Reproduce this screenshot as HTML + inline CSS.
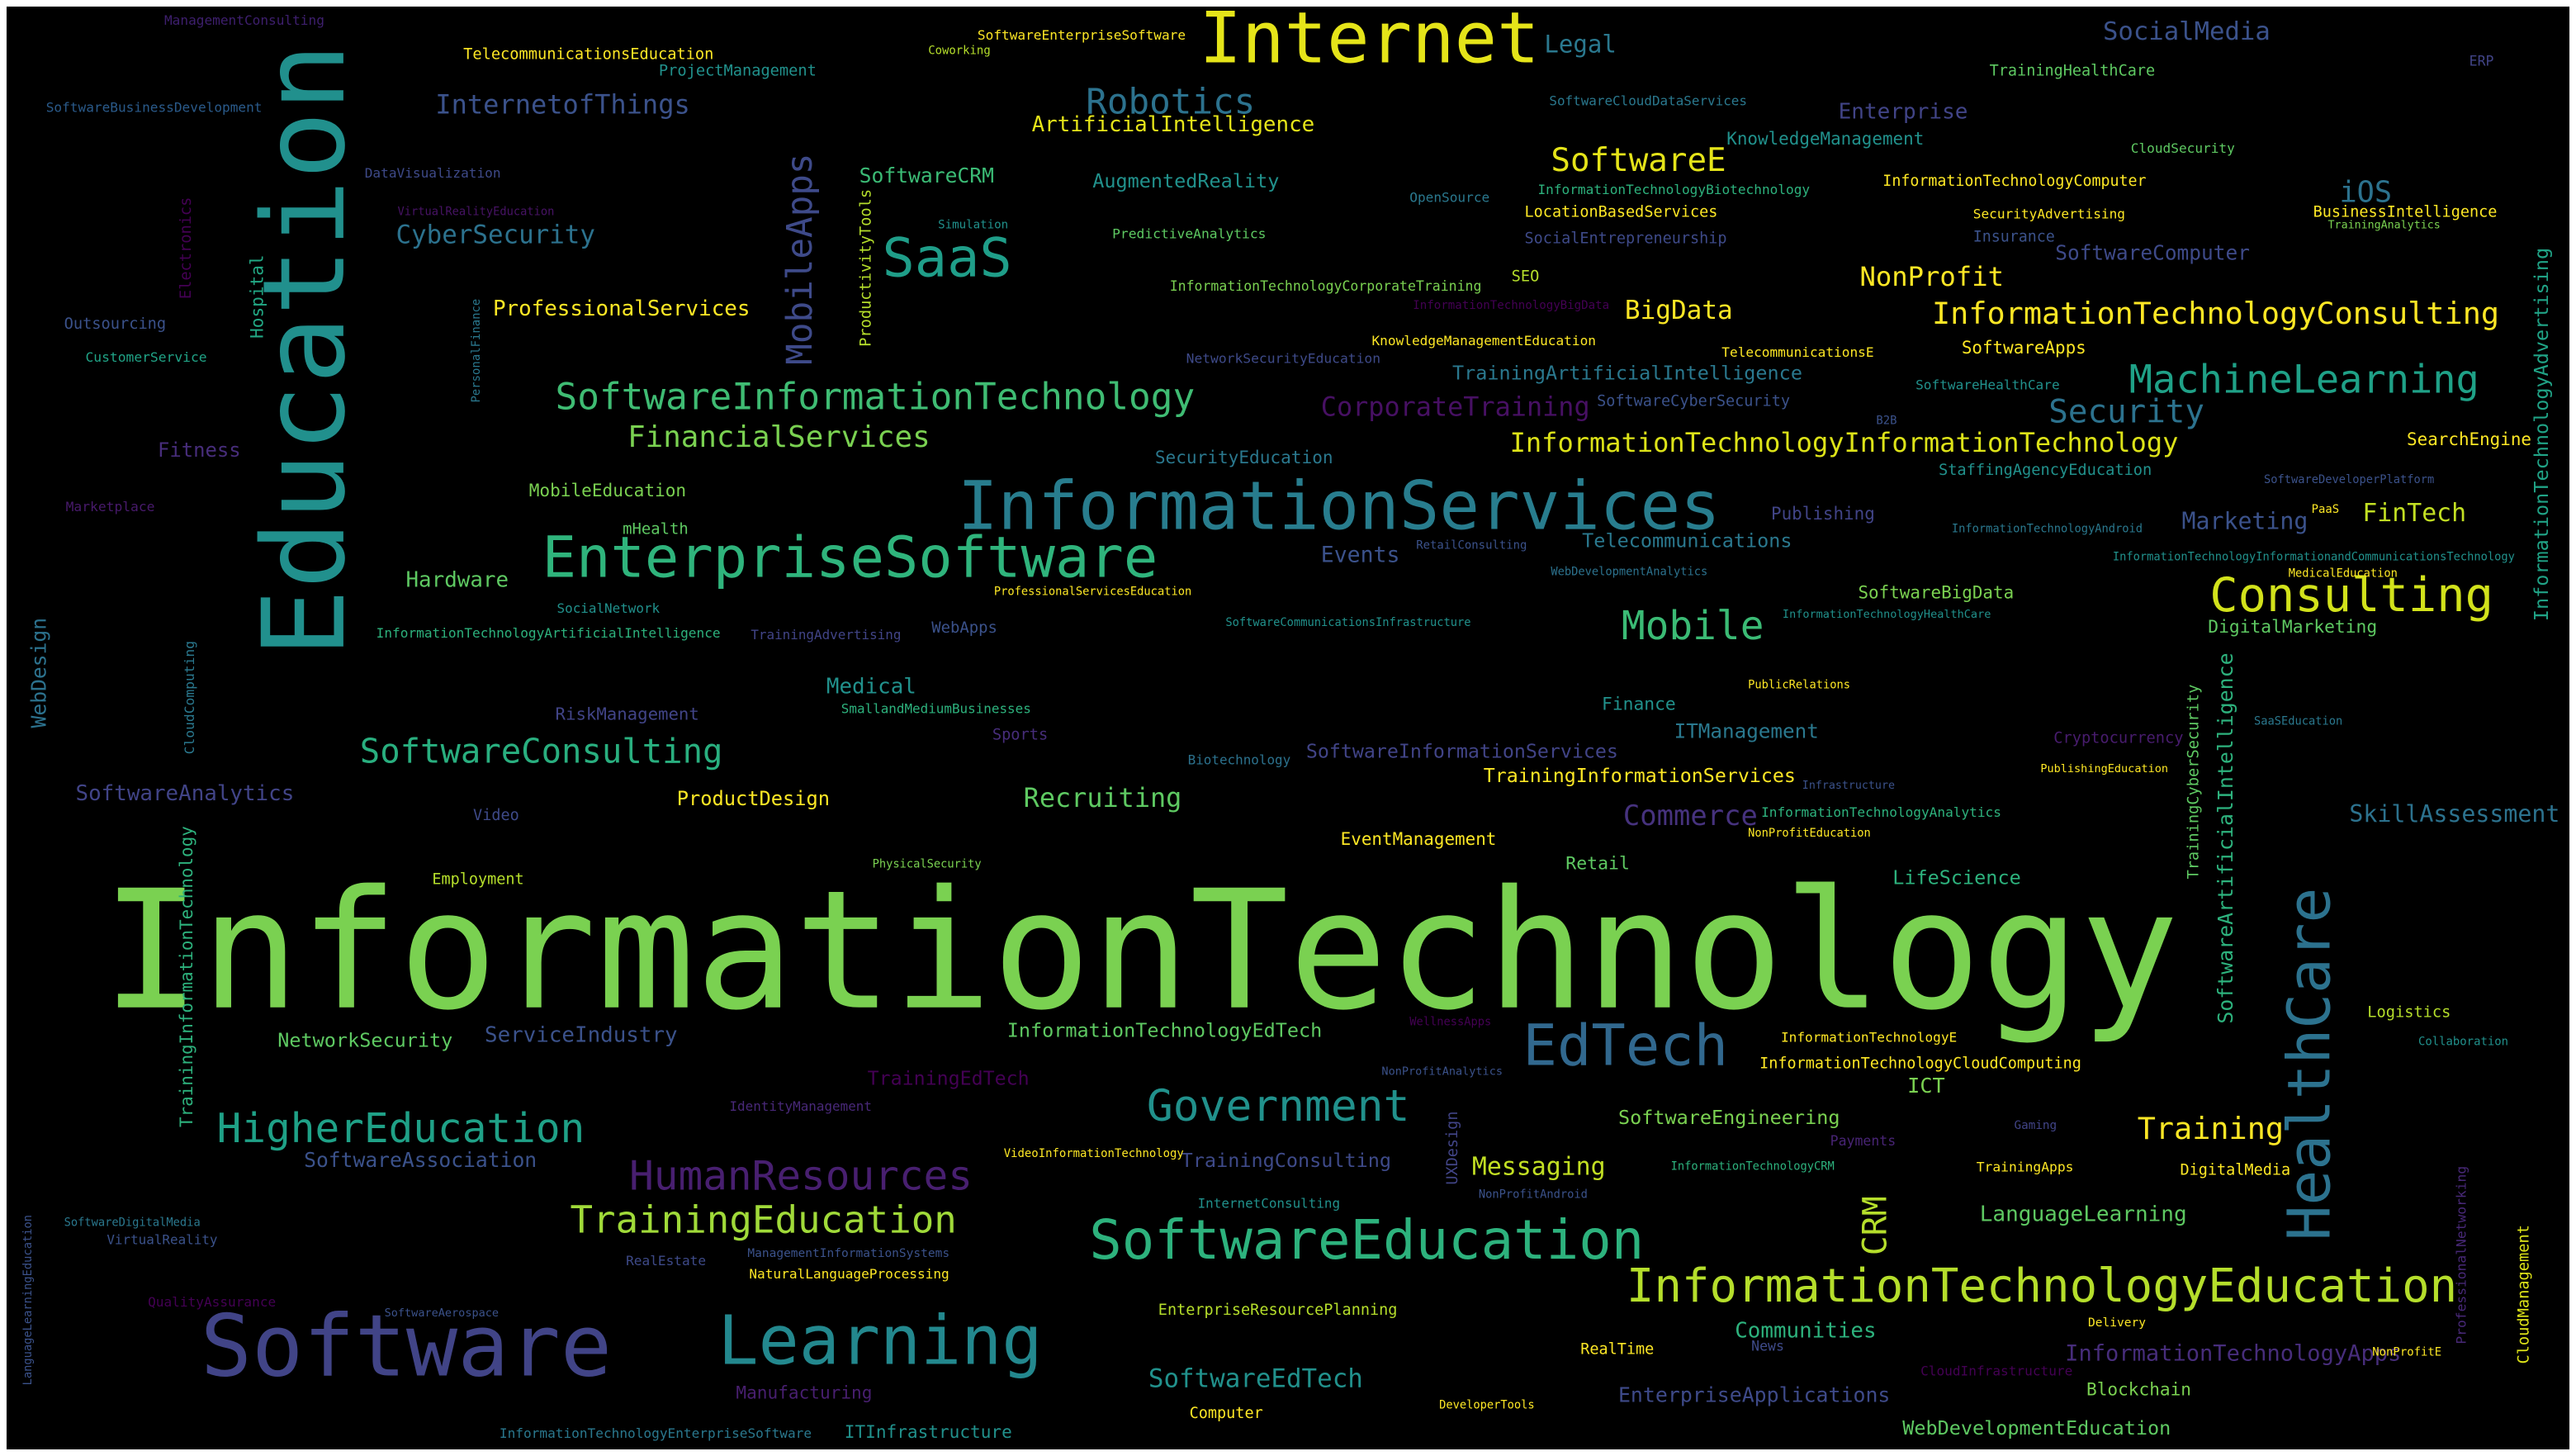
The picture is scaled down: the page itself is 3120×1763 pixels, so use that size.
<!DOCTYPE html>
<html><head><meta charset="utf-8">
<style>
html,body{margin:0;padding:0;background:#fff;width:3120px;height:1763px;overflow:hidden}
#stage{position:absolute;left:0;top:0;width:1568px;height:886px;transform:scale(1.98980);transform-origin:0 0}
#bg{position:absolute;left:4px;top:4px;width:1560px;height:878px;background:#000}
.w{position:absolute;white-space:nowrap;line-height:1;font-family:"DejaVu Sans Mono","Liberation Mono",monospace;letter-spacing:0}
.v{transform:rotate(-90deg);transform-origin:0 0}
</style></head>
<body>
<div id="stage"><div id="bg"></div></div>
<script>
// [text, x, capTop(or bottom y for vertical), fontSize, color, vertical]
const words = [
["InformationTechnology",62,540,100,"#7ad151",0],
["Education",160,400,69,"#21908d",1],
["Software",122,800,52,"#414487",0],
["Learning",437,800,41,"#23888e",0],
["Internet",730,8,43,"#e5e419",0],
["InformationServices",583,292,40.6,"#287d8e",0],
["EnterpriseSoftware",330,325,34.6,"#2fb47c",0],
["SoftwareEducation",663,740,33,"#2db27d",0],
["InformationTechnologyEducation",990,770,28,"#b5de2b",0],
["HealthCare",1393,755,35.7,"#2c728e",1],
["EdTech",927,622,34.6,"#31688e",0],
["Government",698,662,26.6,"#21918c",0],
["SaaS",537,143,32.8,"#1f9e89",0],
["Consulting",1345,350,28.7,"#d2e21b",0],
["Mobile",987,370,24,"#3bbb75",0],
["HigherEducation",132,676,24.8,"#1fa187",0],
["HumanResources",383,705,24.8,"#481f70",0],
["TrainingEducation",347,733,23,"#a0da39",0],
["SoftwareInformationTechnology",338,232,22.3,"#3fbc73",0],
["MachineLearning",1296,221,23.6,"#1fa187",0],
["InformationTechnologyConsulting",1176,183,18.5,"#fde725",0],
["SoftwareConsulting",219,448,20.4,"#29af7f",0],
["Robotics",661,53,21.4,"#2c728e",0],
["SoftwareE",944,89,19.7,"#e5e419",0],
["Security",1247,242,19.7,"#2c728e",0],
["InformationTechnologyInformationTechnology",919,262,16.1,"#dde318",0],
["MobileApps",480,222,21.4,"#3e4a89",1],
["Recruiting",623,478,16,"#5ec962",0],
["Training",1301,679,18.5,"#fde725",0],
["CRM",1133,764,20,"#b5de2b",1],
["InformationTechnologyApps",1257,818,13.6,"#472d7b",0],
["FinTech",1438,305,15,"#c2df23",0],
["NonProfit",1132,161,16.2,"#fde725",0],
["iOS",1424,110,17.7,"#2c728e",0],
["SocialMedia",1280,12,15.4,"#3b528b",0],
["InternetofThings",265,56,16.1,"#3b528b",0],
["CyberSecurity",241,136,15.5,"#2c728e",0],
["ArtificialIntelligence",628,70,13,"#e5e419",0],
["AugmentedReality",665,105,11.8,"#21918c",0],
["SoftwareCRM",523,101,12.4,"#3bbb75",0],
["ProfessionalServices",300,182,13,"#fde725",0],
["FinancialServices",382,258,18,"#7ad151",0],
["CorporateTraining",804,240,16,"#471063",0],
["BigData",989,182,15.6,"#fde725",0],
["Enterprise",1119,62,13.1,"#414487",0],
["Legal",940,21,14.6,"#2a788e",0],
["Hardware",247,347,13,"#5ec962",0],
["Events",804,332,13.3,"#3b528b",0],
["Telecommunications",963,324,11.8,"#2a788e",0],
["Publishing",1078,307,10.5,"#414487",0],
["Marketing",1328,311,14.2,"#3b528b",0],
["SoftwareBigData",1131,355,10.5,"#7ad151",0],
["DigitalMarketing",1344,376,10.7,"#5ec962",0],
["SearchEngine",1465,262,10.5,"#fde725",0],
["StaffingAgencyEducation",1180,281,9.4,"#21918c",0],
["SkillAssessment",1430,489,14.2,"#2c728e",0],
["Medical",503,412,13,"#21918c",0],
["SmallandMediumBusinesses",512,427,8,"#2db27d",0],
["RiskManagement",338,429,10.4,"#414487",0],
["Sports",604,442,9.4,"#472d7b",0],
["SoftwareAnalytics",46,477,13,"#414487",0],
["ProductDesign",412,481,11.9,"#fde725",0],
["Video",288,491,9.3,"#3e4a89",0],
["Fitness",96,268,12,"#472d7b",0],
["Outsourcing",39,192,9.4,"#3b528b",0],
["CustomerService",52,212,8.2,"#20a386",0],
["Marketplace",40,303,8.2,"#481a6c",0],
["DataVisualization",222,100,8.1,"#3e4a89",0],
["VirtualRealityEducation",242,125,6.9,"#471365",0],
["Electronics",110,182,9.4,"#440154",1],
["Hospital",153,206,10.6,"#22a884",1],
["PersonalFinance",288,245,7,"#2a788e",1],
["ProductivityTools",524,211,9.4,"#b5de2b",1],
["MobileEducation",322,293,10.6,"#7ad151",0],
["mHealth",379,317,9.5,"#5ec962",0],
["SocialNetwork",339,366,8,"#21918c",0],
["InformationTechnologyArtificialIntelligence",229,380,8.1,"#2db27d",0],
["TrainingAdvertising",457,382,8,"#414487",0],
["WebApps",567,377,9.5,"#3b528b",0],
["ProfessionalServicesEducation",605,356,6.9,"#fde725",0],
["SoftwareCommunicationsInfrastructure",746,375,6.9,"#21918c",0],
["RetailConsulting",862,328,7,"#3b528b",0],
["WebDevelopmentAnalytics",944,344,6.9,"#2c728e",0],
["SecurityEducation",703,273,10.6,"#2a788e",0],
["NetworkSecurityEducation",722,213,8.2,"#3e4a89",0],
["KnowledgeManagementEducation",835,202,8.1,"#fde725",0],
["TrainingArtificialIntelligence",884,222,11.8,"#2a788e",0],
["SoftwareCyberSecurity",972,239,9.3,"#3b528b",0],
["TelecommunicationsE",1048,209,8.1,"#fde725",0],
["SoftwareApps",1194,206,10.5,"#fde725",0],
["SoftwareHealthCare",1166,229,8.1,"#21918c",0],
["B2B",1142,252,7,"#3b528b",0],
["SoftwareDeveloperPlatform",1378,288,6.9,"#3b528b",0],
["PaaS",1407,306,7,"#fde725",0],
["InformationTechnologyAndroid",1188,318,6.9,"#2a788e",0],
["InformationTechnologyInformationandCommunicationsTechnology",1286,335,6.9,"#21918c",0],
["MedicalEducation",1393,345,6.9,"#fde725",0],
["InformationTechnologyHealthCare",1085,370,6.8,"#21918c",0],
["InformationTechnologyAdvertising",1543,378,11.8,"#20a386",1],
["SoftwareArtificialIntelligence",1350,623,12.5,"#2db27d",1],
["TrainingCyberSecurity",1332,535,9.4,"#5ec962",1],
["PublicRelations",1064,413,6.9,"#fde725",0],
["Finance",975,423,10.7,"#21918c",0],
["ITManagement",1019,439,12.2,"#2a788e",0],
["SoftwareInformationServices",795,452,11.7,"#414487",0],
["TrainingInformationServices",903,467,11.7,"#fde725",0],
["Infrastructure",1097,474,6.7,"#3b528b",0],
["Biotechnology",723,458,8,"#2c728e",0],
["Cryptocurrency",1250,444,9.4,"#481c6e",0],
["SaaSEducation",1372,435,6.9,"#2a788e",0],
["PublishingEducation",1242,464,6.8,"#fde725",0],
["InformationTechnologyAnalytics",1072,489,8.1,"#2db27d",0],
["NonProfitEducation",1064,503,6.9,"#fde725",0],
["Commerce",988,489,17,"#46327e",0],
["EventManagement",816,505,10.5,"#fde725",0],
["Retail",953,520,10.8,"#5ec962",0],
["LifeScience",1152,529,11.8,"#2db27d",0],
["Employment",263,530,9.3,"#b5de2b",0],
["PhysicalSecurity",531,522,6.9,"#7ad151",0],
["TrainingInformationTechnology",110,686,10.5,"#2db27d",1],
["WebDesign",19,443,12.4,"#2c728e",1],
["CloudComputing",112,459,8.2,"#2a788e",1],
["NetworkSecurity",169,628,11.8,"#5ec962",0],
["ServiceIndustry",295,624,13,"#3b528b",0],
["InformationTechnologyEdTech",613,622,11.8,"#5ec962",0],
["WellnessApps",858,618,6.9,"#440154",0],
["NonProfitAnalytics",841,648,6.8,"#3b528b",0],
["InformationTechnologyE",1084,626,8.1,"#fde725",0],
["InformationTechnologyCloudComputing",1071,642,9.3,"#fde725",0],
["ICT",1161,655,12.7,"#7ad151",0],
["Logistics",1441,611,9.4,"#b5de2b",0],
["Collaboration",1472,630,7,"#21918c",0],
["TrainingEdTech",528,651,11.7,"#440154",0],
["IdentityManagement",444,669,8,"#482878",0],
["UXDesign",881,721,9.3,"#414487",1],
["SoftwareEngineering",985,675,11.8,"#7ad151",0],
["Payments",1114,689,8.3,"#482475",0],
["Gaming",1226,680,7.2,"#414487",0],
["SoftwareAssociation",185,700,12.4,"#3b528b",0],
["TrainingConsulting",719,701,11.8,"#3e4a89",0],
["VideoInformationTechnology",611,698,7,"#fde725",0],
["Messaging",896,703,15,"#c2df23",0],
["InformationTechnologyCRM",1017,706,6.9,"#2db27d",0],
["TrainingApps",1203,705,8.2,"#fde725",0],
["DigitalMedia",1327,707,9.3,"#fde725",0],
["NonProfitAndroid",900,723,6.9,"#3b528b",0],
["InternetConsulting",729,728,8,"#21918c",0],
["LanguageLearning",1205,733,13.1,"#5ec962",0],
["ManagementInformationSystems",455,758,7.3,"#3b528b",0],
["NaturalLanguageProcessing",456,770,8.1,"#fde725",0],
["RealEstate",381,762,8.1,"#3e4a89",0],
["SoftwareDigitalMedia",39,740,6.9,"#2a788e",0],
["VirtualReality",65,750,8,"#3b528b",0],
["QualityAssurance",90,787,8.1,"#440154",0],
["SoftwareAerospace",234,795,6.8,"#3b528b",0],
["LanguageLearningEducation",15,843,6.9,"#3b528b",1],
["EnterpriseResourcePlanning",705,792,9.3,"#b5de2b",0],
["RealTime",962,816,9.3,"#fde725",0],
["Communities",1056,804,13,"#2db27d",0],
["News",1066,814,8.3,"#3e4a89",0],
["Delivery",1271,800,7.3,"#fde725",0],
["CloudInfrastructure",1169,829,8.1,"#440154",0],
["NonProfitE",1444,819,7,"#fde725",0],
["ProfessionalNetworking",1495,818,8.2,"#482878",1],
["CloudManagement",1533,830,9.4,"#dde318",1],
["Manufacturing",448,842,10.6,"#481f70",0],
["SoftwareEdTech",699,832,15.5,"#21918c",0],
["Computer",724,855,9.3,"#fde725",0],
["DeveloperTools",876,851,6.9,"#fde725",0],
["EnterpriseApplications",985,843,12.5,"#3e4a89",0],
["Blockchain",1270,840,10.6,"#7ad151",0],
["WebDevelopmentEducation",1158,864,11.8,"#5ec962",0],
["ITInfrastructure",514,866,10.6,"#21918c",0],
["InformationTechnologyEnterpriseSoftware",304,867,8.1,"#2a788e",0],
["ManagementConsulting",100,7,8.1,"#3e1f6e",0],
["SoftwareBusinessDevelopment",28,60,8.1,"#2a5a8a",0],
["TelecommunicationsEducation",282,28,9.4,"#fde725",0],
["ProjectManagement",401,38,9.4,"#21918c",0],
["Coworking",565,27,7,"#b5de2b",0],
["SoftwareEnterpriseSoftware",595,16,8.1,"#fde725",0],
["Simulation",571,132,7.1,"#21918c",0],
["PredictiveAnalytics",677,137,8.2,"#5ec962",0],
["InformationTechnologyCorporateTraining",712,169,8.3,"#7ad151",0],
["InformationTechnologyBigData",860,181,7.1,"#440154",0],
["SEO",920,163,9.4,"#b5de2b",0],
["OpenSource",858,115,8.1,"#2a788e",0],
["InformationTechnologyBiotechnology",936,110,8.1,"#2db27d",0],
["LocationBasedServices",928,124,9.3,"#fde725",0],
["SocialEntrepreneurship",928,140,9.3,"#3e4a89",0],
["SoftwareCloudDataServices",943,57,8,"#2a788e",0],
["KnowledgeManagement",1051,79,10.5,"#21918c",0],
["InformationTechnologyComputer",1146,105,9.2,"#fde725",0],
["SecurityAdvertising",1201,125,8.1,"#fde725",0],
["Insurance",1201,139,9.2,"#3b528b",0],
["SoftwareComputer",1251,148,12.3,"#3e4a89",0],
["TrainingHealthCare",1211,38,9.3,"#5ec962",0],
["CloudSecurity",1297,85,8.1,"#5ec962",0],
["ERP",1503,32,8.3,"#414487",0],
["BusinessIntelligence",1408,124,9.3,"#fde725",0],
["TrainingAnalytics",1417,133,6.7,"#7ad151",0]
];
const stage=document.getElementById('stage');
function kebab(s){return s.replace(/([a-z])([A-Z])/g,'$1-$2').replace(/([A-Z])([A-Z][a-z])/g,'$1-$2').toLowerCase();}
for(const w of words){
  const [t,x,y,fs,c,v]=w;
  const el=document.createElement('span');
  el.className='w'+(v?' v':'');
  el.textContent=t;
  el.style.fontSize=fs+'px';
  el.style.color=c;
  if(v){el.style.left=(x-0.117*fs)+'px';el.style.top=y+'px';}
  else{
    const off = fs<40 ? 1.8 : 0.5;
    el.style.left=x+'px';el.style.top=(y-0.117*fs+off)+'px';
  }
  
  
  stage.appendChild(el);
}
</script>
</body></html>
